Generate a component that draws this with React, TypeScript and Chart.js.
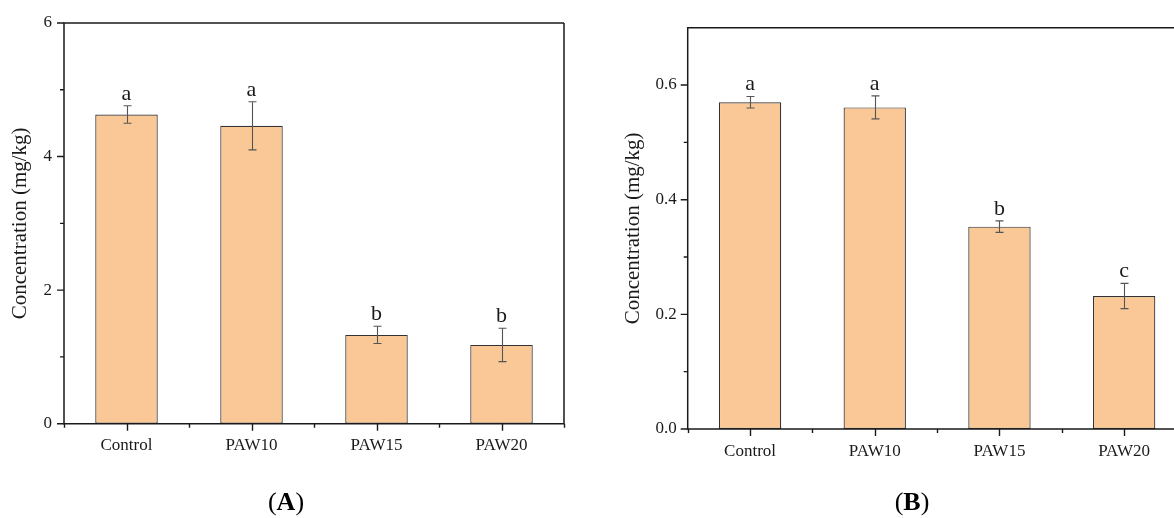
import React, { useEffect, useRef } from 'react';
import { Chart, registerables } from 'chart.js';

Chart.register(...registerables);

// ---- data ----
const categories = ['Control', 'PAW10', 'PAW15', 'PAW20'];

const valuesA = [4.63, 4.46, 1.33, 1.18];
const errorsA = [0.13, 0.36, 0.13, 0.25];
const lettersA = ['a', 'a', 'b', 'b'];
const majorTicksA = [0, 2, 4, 6];
const minorTicksA = [1, 3, 5];

const valuesB = [0.57, 0.561, 0.353, 0.232];
const errorsB = [0.01, 0.02, 0.01, 0.022];
const lettersB = ['a', 'a', 'b', 'c'];
const majorTicksB = [0, 0.2, 0.4, 0.6];
const minorTicksB = [0.1, 0.3, 0.5];

const yTitle = 'Concentration (mg/kg)';

const SERIF = '"Liberation Serif", "Times New Roman", "DejaVu Serif", serif';
const BAR_FILL = '#F9C896';
const BAR_BORDER = '#333333';
const AXIS = '#1a1a1a';
const TEXT = '#1a1a1a';

type PanelCfg = {
  errors: number[];
  letters: string[];
  major: number[];
  minor: number[];
  titleX: number;
  panelLetter: string;
  panelX: number;
  panelY: number;
  drawRight: boolean;
};

function makePlugin(cfg: PanelCfg) {
  return {
    id: 'panelDecor' + cfg.panelLetter,
    afterDraw(chart: any) {
      const ctx = chart.ctx as CanvasRenderingContext2D;
      const { left, right, top, bottom } = chart.chartArea;
      const x = chart.scales.x;
      const y = chart.scales.y;
      const data = chart.data.datasets[0].data as number[];
      const meta = chart.getDatasetMeta(0);
      const ext = cfg.drawRight ? 0 : 30;

      ctx.save();
      // error bars
      ctx.strokeStyle = '#555555';
      ctx.lineWidth = 1.1;
      meta.data.forEach((bar: any, i: number) => {
        const v = data[i];
        const e = cfg.errors[i];
        const cx = Math.round(bar.x) + 0.5;
        const yt = y.getPixelForValue(v + e);
        const yb = y.getPixelForValue(v - e);
        ctx.beginPath();
        ctx.moveTo(cx, yt);
        ctx.lineTo(cx, yb);
        ctx.moveTo(cx - 4, yt);
        ctx.lineTo(cx + 4, yt);
        ctx.moveTo(cx - 4, yb);
        ctx.lineTo(cx + 4, yb);
        ctx.stroke();
        // letters
        ctx.fillStyle = TEXT;
        ctx.font = `22px ${SERIF}`;
        ctx.textAlign = 'center';
        ctx.textBaseline = 'alphabetic';
        ctx.fillText(cfg.letters[i], bar.x, yt - 6);
      });

      // axis lines
      ctx.strokeStyle = AXIS;
      ctx.lineWidth = 1.5;
      ctx.beginPath();
      ctx.moveTo(right + ext, top);
      ctx.lineTo(left, top);
      ctx.lineTo(left, bottom);
      ctx.lineTo(right + ext, bottom);
      if (cfg.drawRight) {
        ctx.lineTo(right, top);
      }
      ctx.stroke();

      // y ticks
      ctx.lineWidth = 1.4;
      ctx.beginPath();
      cfg.major.forEach((v) => {
        const py = y.getPixelForValue(v);
        ctx.moveTo(left - 7, py);
        ctx.lineTo(left, py);
      });
      cfg.minor.forEach((v) => {
        const py = y.getPixelForValue(v);
        ctx.moveTo(left - 4, py);
        ctx.lineTo(left, py);
      });
      // x ticks
      categories.forEach((_, i) => {
        const px = Math.round(x.getPixelForValue(i)) + 0.5;
        ctx.moveTo(px, bottom);
        ctx.lineTo(px, bottom + 7);
      });
      for (let k = 0; k <= categories.length; k++) {
        const px = Math.round(x.getPixelForValue(k - 0.5)) + 0.5;
        ctx.moveTo(px, bottom);
        ctx.lineTo(px, bottom + 4);
      }
      ctx.stroke();

      // y title
      ctx.save();
      ctx.translate(cfg.titleX, (top + bottom) / 2);
      ctx.rotate(-Math.PI / 2);
      ctx.fillStyle = TEXT;
      ctx.font = `21px ${SERIF}`;
      ctx.textAlign = 'center';
      ctx.textBaseline = 'middle';
      ctx.fillText(yTitle, 0, 0);
      ctx.restore();

      // panel label "(A)"
      const reg = `26px ${SERIF}`;
      const bold = `bold 26px ${SERIF}`;
      ctx.font = reg;
      const w1 = ctx.measureText('(').width;
      const w3 = ctx.measureText(')').width;
      ctx.font = bold;
      const w2 = ctx.measureText(cfg.panelLetter).width;
      const total = w1 + w2 + w3;
      let sx = cfg.panelX - total / 2;
      ctx.textAlign = 'left';
      ctx.textBaseline = 'middle';
      ctx.fillStyle = '#000';
      ctx.font = reg;
      ctx.fillText('(', sx, cfg.panelY);
      sx += w1;
      ctx.font = bold;
      ctx.fillText(cfg.panelLetter, sx, cfg.panelY);
      sx += w2;
      ctx.font = reg;
      ctx.fillText(')', sx, cfg.panelY);
      ctx.restore();
    },
  };
}

function makeConfig(
  values: number[],
  yMax: number,
  step: number,
  labelEvery: (v: number, i: number) => string,
  pad: { left: number; top: number; right: number; bottom: number },
  yWidth: number,
  xHeight: number,
  yPad: number,
  plugin: any
): any {
  return {
    type: 'bar',
    data: {
      labels: categories,
      datasets: [
        {
          data: values,
          backgroundColor: BAR_FILL,
          borderColor: BAR_BORDER,
          borderWidth: 1.2,
          borderSkipped: false,
          categoryPercentage: 1,
          barPercentage: 0.5,
        },
      ],
    },
    options: {
      responsive: false,
      animation: false,
      devicePixelRatio: 1,
      layout: { padding: pad },
      plugins: { legend: { display: false }, tooltip: { enabled: false } },
      scales: {
        x: {
          type: 'category',
          offset: true,
          grid: { display: false, drawTicks: false },
          border: { display: false },
          ticks: {
            font: { family: SERIF, size: 17 },
            color: TEXT,
            padding: 12,
            maxRotation: 0,
            autoSkip: false,
          },
          afterFit: (s: any) => {
            s.height = xHeight;
          },
        },
        y: {
          min: 0,
          max: yMax,
          grid: { display: false, drawTicks: false },
          border: { display: false },
          ticks: {
            stepSize: step,
            font: { family: SERIF, size: 17 },
            color: TEXT,
            padding: yPad,
            callback: (v: any, i: number) => labelEvery(Number(v), i),
          },
          afterFit: (s: any) => {
            s.width = yWidth;
          },
        },
      },
    },
    plugins: [plugin],
  };
}

export default function App() {
  const refA = useRef<HTMLCanvasElement>(null);
  const refB = useRef<HTMLCanvasElement>(null);

  useEffect(() => {
    const pluginA = makePlugin({
      errors: errorsA,
      letters: lettersA,
      major: majorTicksA,
      minor: minorTicksA,
      titleX: 20,
      panelLetter: 'A',
      panelX: 286,
      panelY: 503,
      drawRight: true,
    });
    const pluginB = makePlugin({
      errors: errorsB,
      letters: lettersB,
      major: majorTicksB,
      minor: minorTicksB,
      titleX: 46,
      panelLetter: 'B',
      panelX: 325,
      panelY: 503,
      drawRight: false,
    });

    const chartA = new Chart(
      refA.current as HTMLCanvasElement,
      makeConfig(
        valuesA,
        6,
        1,
        (v, i) => (i % 2 === 0 ? String(Math.round(v)) : ''),
        { left: 0, top: 23, right: 23, bottom: 0 },
        64,
        94.3,
        12,
        pluginA
      )
    );
    const chartB = new Chart(
      refB.current as HTMLCanvasElement,
      makeConfig(
        valuesB,
        0.7,
        0.1,
        (v, i) => (i % 2 === 0 && v < 0.65 ? v.toFixed(1) : ''),
        { left: 0, top: 27.7, right: 20.5, bottom: 0 },
        100.7,
        89,
        11,
        pluginB
      )
    );
    return () => {
      chartA.destroy();
      chartB.destroy();
    };
  }, []);

  return (
    <div
      style={{
        position: 'absolute',
        left: 0,
        top: 0,
        width: 1174,
        height: 518,
        overflow: 'hidden',
        background: '#fff',
      }}
    >
      <canvas
        ref={refA}
        width={587}
        height={518}
        style={{ position: 'absolute', left: 0, top: 0, width: 587, height: 518 }}
      />
      <canvas
        ref={refB}
        width={620}
        height={518}
        style={{ position: 'absolute', left: 587, top: 0, width: 620, height: 518 }}
      />
    </div>
  );
}
